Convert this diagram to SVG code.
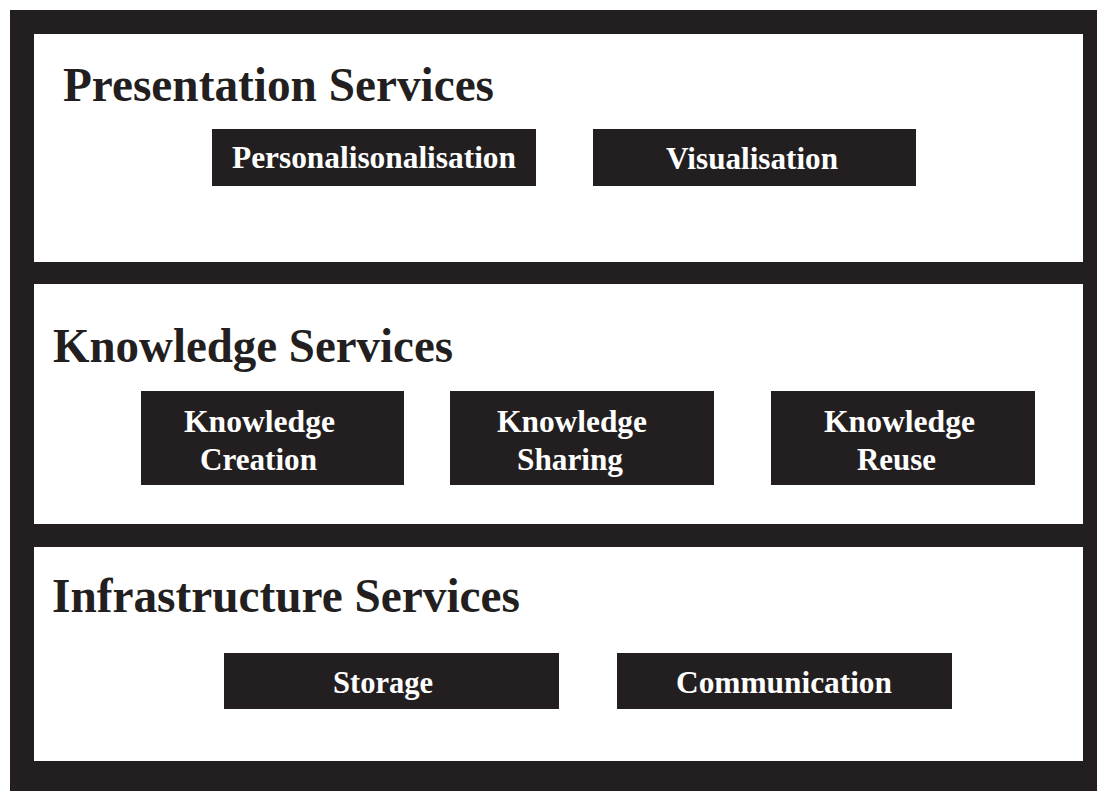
<svg xmlns="http://www.w3.org/2000/svg" width="1097" height="791" viewBox="0 0 1097 791">
<style>
.bg{fill:#231f20}
.panel{fill:#ffffff}
.box{fill:#231f20}
.title{font-family:"Liberation Serif","Times New Roman",serif;font-weight:bold;font-size:48px;fill:#231f20}
.lbl{font-family:"Liberation Serif","Times New Roman",serif;font-weight:bold;font-size:31px;fill:#ffffff}
</style>
<rect x="0" y="0" width="1097" height="791" fill="#ffffff"/>
<rect class="bg" x="10" y="10" width="1087" height="781"/>
<g id="presentation">
<rect class="panel" x="34" y="34" width="1049" height="228"/>
<text class="title" x="63" y="101" textLength="431" lengthAdjust="spacingAndGlyphs">Presentation Services</text>
</g>
<g id="personalisation">
<rect class="box" x="212" y="129" width="324" height="57"/>
<text class="lbl" x="232" y="168" textLength="284" lengthAdjust="spacingAndGlyphs">Personalisonalisation</text>
</g>
<g id="visualisation">
<rect class="box" x="593" y="129" width="323" height="57"/>
<text class="lbl" x="666" y="169" textLength="172" lengthAdjust="spacingAndGlyphs">Visualisation</text>
</g>
<g id="knowledge">
<rect class="panel" x="34" y="284" width="1049" height="240"/>
<text class="title" x="53" y="362" textLength="400" lengthAdjust="spacingAndGlyphs">Knowledge Services</text>
</g>
<g id="creation">
<rect class="box" x="141" y="391" width="263" height="94"/>
<text class="lbl" x="184" y="432" textLength="151" lengthAdjust="spacingAndGlyphs">Knowledge</text>
<text class="lbl" x="200" y="470" textLength="117" lengthAdjust="spacingAndGlyphs">Creation</text>
</g>
<g id="sharing">
<rect class="box" x="450" y="391" width="264" height="94"/>
<text class="lbl" x="497" y="432" textLength="150" lengthAdjust="spacingAndGlyphs">Knowledge</text>
<text class="lbl" x="517" y="470" textLength="106" lengthAdjust="spacingAndGlyphs">Sharing</text>
</g>
<g id="reuse">
<rect class="box" x="771" y="391" width="264" height="94"/>
<text class="lbl" x="824" y="432" textLength="151" lengthAdjust="spacingAndGlyphs">Knowledge</text>
<text class="lbl" x="857" y="470" textLength="79" lengthAdjust="spacingAndGlyphs">Reuse</text>
</g>
<g id="infrastructure">
<rect class="panel" x="34" y="547" width="1049" height="214"/>
<text class="title" x="52" y="612" textLength="468" lengthAdjust="spacingAndGlyphs">Infrastructure Services</text>
</g>
<g id="storage">
<rect class="box" x="224" y="653" width="335" height="56"/>
<text class="lbl" x="333" y="693" textLength="100" lengthAdjust="spacingAndGlyphs">Storage</text>
</g>
<g id="communication">
<rect class="box" x="617" y="653" width="335" height="56"/>
<text class="lbl" x="676" y="693" textLength="216" lengthAdjust="spacingAndGlyphs">Communication</text>
</g>
<g id="connectors"></g>
</svg>
